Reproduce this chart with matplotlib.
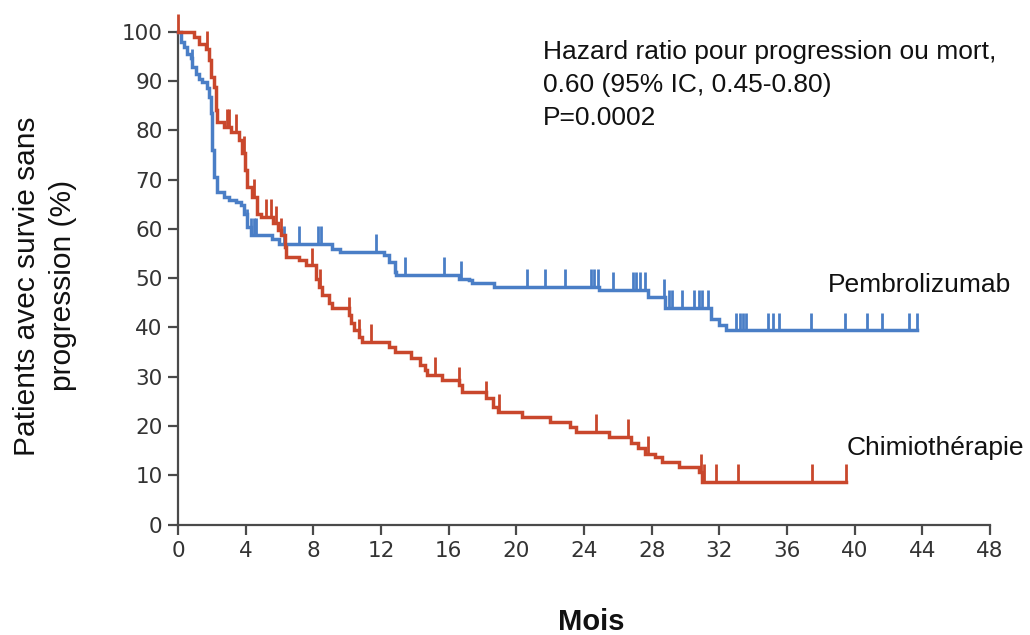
import numpy as np
import matplotlib
matplotlib.use("Agg")
import matplotlib.pyplot as plt

# ---- Data ----
pembro_t = [0, 0.2, 0.35, 0.55, 0.75, 0.85, 1.05, 1.25, 1.44, 1.73, 1.83, 1.93, 2.03, 2.13,
            2.32, 2.72, 3.0, 3.4, 3.7, 3.9, 4.1, 4.3, 5.57, 5.97, 9.1, 9.6, 12.17, 12.47,
            12.8, 12.9, 16.6, 17.2, 17.4, 18.7, 24.9, 27.8, 28.8, 31.5, 32.0, 32.4]
pembro_s = [100, 98, 96.9, 95.5, 94.6, 92.9, 91.5, 90.5, 89.8, 88.5, 86.8, 83.5, 76, 70.5,
            67.5, 66.5, 65.8, 65.5, 64.8, 63.1, 60.4, 58.7, 58.0, 56.9, 56.0, 55.3, 54.7, 53.3,
            51.3, 50.6, 49.9, 49.6, 49.1, 48.2, 47.6, 46.2, 44.0, 41.8, 40.5, 39.4]
pembro_end = 43.7
pembro_cens = [0.85, 4.1, 4.3, 4.5, 4.6, 6.26, 7.15, 8.3, 8.45, 11.7, 13.4, 15.7, 16.7,
               20.65, 21.7, 22.9, 24.4, 24.6, 24.8, 25.7, 26.9, 27.1, 27.3, 27.6, 28.7,
               29.0, 29.2, 29.8, 30.5, 30.8, 31.0, 31.3, 33.0, 33.2, 33.4, 33.6, 34.9,
               35.2, 35.5, 37.4, 39.4, 40.7, 41.6, 43.2, 43.7]

chemo_t = [0, 0.95, 1.24, 1.64, 1.83, 1.93, 2.13, 2.23, 2.32, 2.72, 3.11, 3.6, 3.8, 3.95,
           4.1, 4.4, 4.7, 4.9, 5.6, 5.9, 6.1, 6.3, 6.4, 7.15, 7.55, 8.14, 8.33, 8.53, 8.92,
           9.12, 10.1, 10.2, 10.4, 10.7, 10.9, 12.5, 12.8, 13.75, 14.3, 14.6, 14.7, 15.6,
           16.6, 16.8, 18.2, 18.6, 18.9, 20.35, 22.0, 23.2, 23.5, 25.5, 26.8, 27.2, 27.6,
           28.2, 28.6, 29.6, 30.8, 31.0]
chemo_s = [100, 98.9, 97.6, 96.6, 94.2, 90.8, 88.8, 84.1, 81.7, 80.7, 79.7, 78, 75.3, 72,
           68.5, 66.5, 63.1, 62.4, 61.1, 59.7, 58.7, 56.3, 54.3, 53.7, 52.6, 49.9, 48.2, 46.6,
           44.9, 43.9, 42.5, 40.8, 39.5, 38.1, 37.1, 36.1, 35.1, 33.7, 32.4, 31.3, 30.3, 29.3,
           28.3, 26.9, 25.6, 23.9, 22.9, 21.9, 20.9, 19.8, 18.8, 17.8, 16.5, 15.5, 14.4,
           13.8, 12.7, 11.7, 10.7, 8.7]
chemo_end = 39.5
chemo_cens = [0, 1.73, 2.9, 3.0, 3.4, 3.9, 4.5, 4.7, 5.2, 5.5, 5.8, 6.1, 7.94, 8.4, 10.1,
              10.7, 11.4, 15.2, 16.6, 18.2, 19.0, 24.7, 26.6, 27.8, 30.9, 31.1, 31.8, 33.1,
              37.5, 39.5]

x_ticks = [0, 4, 8, 12, 16, 20, 24, 28, 32, 36, 40, 44, 48]
y_ticks = [0, 10, 20, 30, 40, 50, 60, 70, 80, 90, 100]

labels = ["Pembrolizumab", "Chimiothérapie"]
annot = "Hazard ratio pour progression ou mort,\n0.60 (95% IC, 0.45-0.80)\nP=0.0002"
xlabel = "Mois"
ylabel = "Patients avec survie sans\nprogression (%)"

BLUE = "#4a7ec6"
RED = "#c9472c"

fig = plt.figure(figsize=(10.30, 6.35), dpi=100)
ax = fig.add_axes([0.1728, 0.174, 0.7884, 0.776])


def step_value(ts, ss, t):
    idx = np.searchsorted(ts, t, side="right") - 1
    return ss[max(idx, 0)]


def draw_curve(ts, ss, end, cens, color):
    ts = list(ts) + [end]
    ss = list(ss) + [ss[-1]]
    ax.step(ts, ss, where="post", color=color, lw=2.5, clip_on=False, zorder=3,
            solid_joinstyle="miter")
    for c in cens:
        y = step_value(np.array(ts[:-1]), ss[:-1], c)
        ax.vlines(c, y, y + 3.6, color=color, lw=2.0, clip_on=False, zorder=3)


draw_curve(pembro_t, pembro_s, pembro_end, pembro_cens, BLUE)
draw_curve(chemo_t, chemo_s, chemo_end, chemo_cens, RED)

ax.set_xlim(0, 48)
ax.set_ylim(0, 100)
for s in ["top", "right"]:
    ax.spines[s].set_visible(False)
for s in ["left", "bottom"]:
    ax.spines[s].set_color("#4a4a4a")
    ax.spines[s].set_linewidth(1.6)
ax.set_xticks(x_ticks)
ax.set_yticks(y_ticks)
ax.tick_params(direction="out", length=7, width=1.6, color="#4a4a4a",
               labelsize=15.5, labelcolor="#333333")
ax.tick_params(axis="x", pad=5)
ax.tick_params(axis="y", pad=4)
for lab in ax.get_xticklabels() + ax.get_yticklabels():
    lab.set_family("DejaVu Sans")

fig.text(0.044, 0.55, ylabel, rotation=90, ha="center", va="center",
         fontsize=21.5, family="Liberation Sans", linespacing=1.35, color="#111111")
fig.text(0.5744, 0.008, xlabel, ha="center", va="baseline", fontsize=21,
         fontweight="bold", family="Liberation Sans", color="#111111")
fig.text(0.527, 0.937, annot, ha="left", va="top", fontsize=19,
         family="Liberation Sans", linespacing=1.47, color="#111111")
fig.text(0.8042, 0.5406, labels[0], ha="left", va="baseline", fontsize=19,
         family="Liberation Sans", color="#111111")
fig.text(0.822, 0.2835, labels[1], ha="left", va="baseline", fontsize=19,
         family="Liberation Sans", color="#111111")

fig.savefig("out.png", dpi=100)
